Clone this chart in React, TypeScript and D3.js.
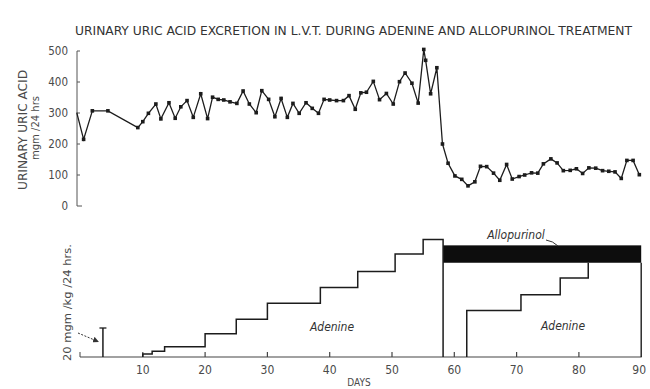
import React from "react";
import * as d3 from "d3";

const W = 650;
const H = 389;

const titleText = "URINARY URIC ACID EXCRETION IN L.V.T. DURING ADENINE AND ALLOPURINOL TREATMENT";
const topAxisTitle = "URINARY URIC ACID";
const topAxisUnit = "mgm /24 hrs";
const bottomAxisTitle = "20 mgm /kg /24 hrs.";
const xAxisTitle = "DAYS";

const uricTicks = [0, 100, 200, 300, 400, 500];
const dayTicks = [10, 20, 30, 40, 50, 60, 70, 80, 90];

const uricDays = [
  -0.6, 0.5, 1.9, 4.4, 9.2, 10, 10.9, 12.1, 12.9, 14.2, 15.2, 16.1, 17.1, 18.1, 19.3, 20.4,
  21.2, 22.1, 23, 24, 25.1, 26.1, 27.1, 28.2, 29.1, 30.2, 31.2, 32.2, 33.2, 34.1, 35.1, 36.2,
  37.2, 38.2, 39.1, 40, 41.1, 42.2, 43.1, 44.1, 45, 45.9, 47, 48, 49.1, 50.2, 51.2, 52.1, 53.2,
  54.2, 55.1, 55.4, 56.2, 57.2, 58.1, 59, 60.1, 61.2, 62.2, 63.3, 64.2, 65.2, 66.3, 67.3, 68.4,
  69.3, 70.4, 71.3, 72.4, 73.4, 74.3, 75.5, 76.5, 77.5, 78.6, 79.6, 80.6, 81.6, 82.7, 83.8,
  84.8, 85.8, 86.8, 87.7, 88.7, 89.7,
];
const uricValues = [
  301, 215, 307, 307, 253, 272, 299, 329, 281, 333, 283, 320, 340, 286, 362, 282,
  351, 344, 342, 336, 331, 371, 329, 301, 372, 344, 288, 347, 286, 331, 299, 333,
  315, 299, 344, 342, 340, 340, 356, 312, 365, 367, 402, 343, 363, 329, 401, 429, 396,
  332, 505, 470, 362, 446, 200, 138, 97, 86, 65, 78, 128, 127, 106, 83, 134,
  87, 95, 100, 107, 106, 136, 152, 139, 114, 115, 120, 105, 123, 122, 114,
  112, 110, 89, 147, 147, 101,
];

// Adenine dose steps (mg/kg/24 hrs), first course
const adenine1Days = [10, 10, 11.5, 13.5, 20, 25, 30, 38.5, 44.5, 50.5, 55, 58.2];
const adenine1Doses = [0, 2, 4, 7, 16, 26, 37, 48, 59, 71, 81, 0];
// second course
const adenine2Days = [62, 62, 70.7, 77, 81.5];
const adenine2Doses = [0, 32, 43, 54.5, 65];
// allopurinol bar: start day, end day, lower / upper level
const allopurinolDays = [58.2, 90];
const allopurinolLevels = [65, 77];
const scaleBarDay = [3.6];
const scaleBarDose = [20];

const FONT = "'Liberation Sans Narrow', 'DejaVu Sans Condensed', 'Liberation Sans', sans-serif";
const INK = "#1c1c1c";
const TXT = "#4a4a4a";

export default function App() {
  const x = d3.scaleLinear().domain([0, 90]).range([80.5, 641.2]);
  const yTop = d3.scaleLinear().domain([0, 500]).range([206, 51]);
  const yDose = d3.scaleLinear().domain([0, 20]).range([357, 328]);

  const uricPts: [number, number][] = uricDays.map((d, i) => [d, uricValues[i]]);
  const uricLine = d3
    .line<[number, number]>()
    .x((d) => x(d[0]))
    .y((d) => yTop(d[1]));

  const stepLine = d3
    .line<[number, number]>()
    .x((d) => x(d[0]))
    .y((d) => yDose(d[1]))
    .curve(d3.curveStepAfter);

  const ad1: [number, number][] = adenine1Days.map((d, i) => [d, adenine1Doses[i]]);
  const ad2: [number, number][] = adenine2Days.map((d, i) => [d, adenine2Doses[i]]);

  const axX = 77;
  const base = yDose(0);
  const barX = x(scaleBarDay[0]);

  return (
    <svg
      width={W}
      height={H}
      viewBox={`0 0 ${W} ${H}`}
      style={{ position: "absolute", left: 0, top: 0, background: "#fff" }}
    >
      <rect x={0} y={0} width={W} height={H} fill="#fff" />
      {/* title */}
      <text
        x={75}
        y={35}
        fontFamily={FONT}
        fontSize={12}
        fill="#333"
        textLength={557}
        lengthAdjust="spacingAndGlyphs"
      >
        {titleText}
      </text>

      {/* top panel y axis */}
      <line x1={axX} x2={axX} y1={yTop(500)} y2={yTop(0)} stroke="#555" strokeWidth={1} />
      <line x1={axX} x2={axX + 5} y1={yTop(0)} y2={yTop(0)} stroke="#555" strokeWidth={1} />
      {uricTicks.map((t) => (
        <g key={t}>
          {t > 0 && (
            <line x1={axX} x2={axX + 3} y1={yTop(t)} y2={yTop(t)} stroke="#555" strokeWidth={1} />
          )}
          <text
            x={68}
            y={yTop(t) + 4}
            textAnchor="end"
            fontFamily={FONT}
            fontSize={11.5}
            fill={TXT}
          >
            {t}
          </text>
        </g>
      ))}
      <text
        transform={`translate(27,130) rotate(-90)`}
        textAnchor="middle"
        fontFamily={FONT}
        fontSize={12}
        fill={TXT}
        textLength={120}
        lengthAdjust="spacingAndGlyphs"
      >
        {topAxisTitle}
      </text>
      <text
        transform={`translate(39,128) rotate(-90)`}
        textAnchor="middle"
        fontFamily={FONT}
        fontSize={10}
        fill={TXT}
        textLength={64}
        lengthAdjust="spacingAndGlyphs"
      >
        {topAxisUnit}
      </text>

      {/* uric acid line */}
      <path d={uricLine(uricPts) || ""} fill="none" stroke={INK} strokeWidth={1.3} />
      {uricPts.slice(1).map((p, i) => (
        <rect
          key={i}
          x={x(p[0]) - 1.8}
          y={yTop(p[1]) - 1.8}
          width={3.6}
          height={3.6}
          fill={INK}
        />
      ))}

      {/* bottom panel */}
      <line x1={80} x2={x(90) + 0.5} y1={base} y2={base} stroke="#444" strokeWidth={1.2} />
      <line x1={80} x2={80} y1={base - 5} y2={base} stroke="#444" strokeWidth={1} />
      {dayTicks.map((t) => (
        <g key={t}>
          {t < 90 && (
            <line x1={x(t)} x2={x(t)} y1={base - 5} y2={base} stroke="#444" strokeWidth={1.2} />
          )}
          <text
            x={t === 90 ? x(t) - 2 : x(t)}
            y={374}
            textAnchor="middle"
            fontFamily={FONT}
            fontSize={12}
            fill={TXT}
          >
            {t}
          </text>
        </g>
      ))}
      <text x={359} y={386} textAnchor="middle" fontFamily={FONT} fontSize={10} fill={TXT}>
        {xAxisTitle}
      </text>

      {/* scale bar */}
      <line x1={barX} x2={barX} y1={yDose(scaleBarDose[0])} y2={base} stroke={INK} strokeWidth={1.5} />
      <line
        x1={barX - 3.5}
        x2={barX + 3.5}
        y1={yDose(scaleBarDose[0])}
        y2={yDose(scaleBarDose[0])}
        stroke={INK}
        strokeWidth={1.3}
      />
      <text
        transform={`translate(71,361) rotate(-90)`}
        textAnchor="start"
        fontFamily={FONT}
        fontSize={11}
        fill={TXT}
        textLength={117}
        lengthAdjust="spacingAndGlyphs"
      >
        {bottomAxisTitle}
      </text>
      <defs>
        <marker id="ah" markerWidth={6} markerHeight={6} refX={5} refY={3} orient="auto">
          <path d="M0,0 L6,3 L0,6 Z" fill="#333" />
        </marker>
      </defs>
      <line
        x1={78}
        y1={333}
        x2={98}
        y2={341.5}
        stroke="#333"
        strokeWidth={1}
        strokeDasharray="2,1.5"
        markerEnd="url(#ah)"
      />

      {/* allopurinol bar */}
      <rect
        x={x(allopurinolDays[0])}
        y={yDose(allopurinolLevels[1])}
        width={x(allopurinolDays[1]) - x(allopurinolDays[0])}
        height={yDose(allopurinolLevels[0]) - yDose(allopurinolLevels[1])}
        fill="#0d0d0d"
      />
      <line
        x1={x(allopurinolDays[1])}
        x2={x(allopurinolDays[1])}
        y1={yDose(allopurinolLevels[0])}
        y2={base}
        stroke={INK}
        strokeWidth={1.4}
      />

      {/* adenine steps */}
      <path d={stepLine(ad1) || ""} fill="none" stroke={INK} strokeWidth={1.5} />
      <path d={stepLine(ad2) || ""} fill="none" stroke={INK} strokeWidth={1.5} />

      <text x={332} y={331} textAnchor="middle" fontFamily={FONT} fontSize={12} fontStyle="italic" fill="#333">
        Adenine
      </text>
      <text x={563} y={330} textAnchor="middle" fontFamily={FONT} fontSize={12} fontStyle="italic" fill="#333">
        Adenine
      </text>
      <text x={516} y={239} textAnchor="middle" fontFamily={FONT} fontSize={12} fontStyle="italic" fill="#333">
        Allopurinol
      </text>
      <path d="M546,240 Q553,241 558,246" fill="none" stroke="#333" strokeWidth={1} />
    </svg>
  );
}
